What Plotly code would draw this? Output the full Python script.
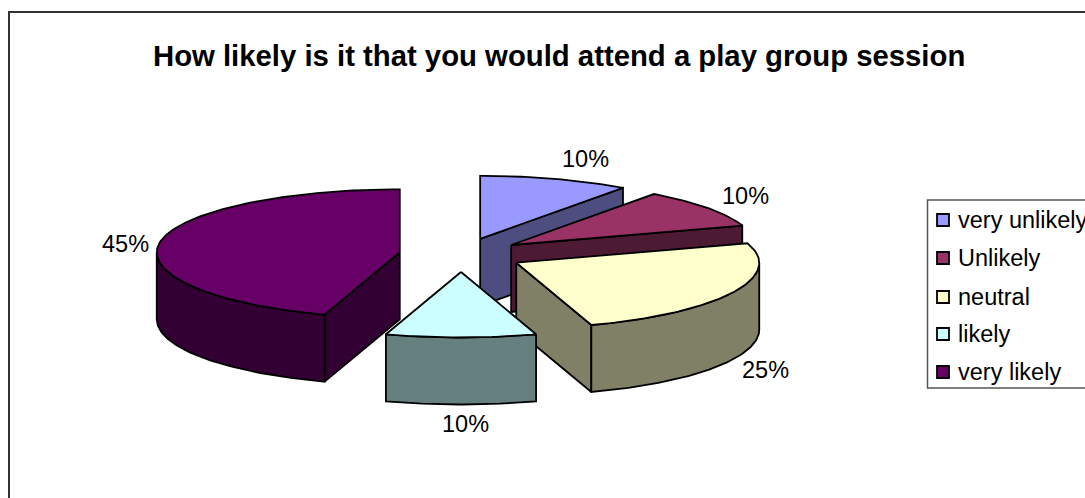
import math
import plotly.graph_objects as go

title = "How likely is it that you would attend a play group session"
categories = ["very unlikely", "Unlikely", "neutral", "likely", "very likely"]
percents = [10, 10, 25, 10, 45]
top_colors = ["#9999FF", "#993366", "#FFFFCC", "#CCFFFF", "#660066"]
wall_colors = ["#4D4D80", "#4D1A33", "#808066", "#668080", "#330033"]

# Layout of the projected pie, in page pixels
W, H = 1085, 498
CX, CY = 461, 255
RX, RY_BACK, RY_FRONT = 243, 63, 65.5
EX, EY = 62, 17      # explosion offset
DEPTH = 67
FONT = "Liberation Sans, Arial, sans-serif"
LABEL_XY = [(585, 159), (745, 196), (765, 370), (465, 424), (125, 244)]
LEGEND_Y = [220, 258, 297, 334, 372]
DRAW_ORDER = [0, 1, 4, 2, 3]


def rim(ax, ay, a, b, n=90):
    steps = max(2, int(n * abs(b - a) / 90) + 1)
    pts = []
    for i in range(steps + 1):
        t = math.radians(a + (b - a) * i / steps)
        c = math.cos(t)
        ry = RY_BACK if c > 0 else RY_FRONT
        pts.append((ax + RX * math.sin(t), ay - ry * c))
    return pts


def poly(fig, pts, fill):
    xs = [p[0] for p in pts] + [pts[0][0]]
    ys = [p[1] for p in pts] + [pts[0][1]]
    fig.add_trace(go.Scatter(x=xs, y=ys, mode="lines", fill="toself", fillcolor=fill,
                             line=dict(color="black", width=1.8), showlegend=False,
                             hoverinfo="skip"))


total = sum(percents)
starts = []
acc = 0
for p in percents:
    starts.append(acc / total * 360)
    acc += p

fig = go.Figure()
for k in DRAW_ORDER:
    a = starts[k]
    b = a + percents[k] / total * 360
    mid = math.radians((a + b) / 2)
    ax = CX + EX * math.sin(mid)
    ay = CY - EY * math.cos(mid)
    apex = (ax, ay)
    down = lambda p: (p[0], p[1] + DEPTH)
    for ang, visible in ((a, math.sin(math.radians(a)) < -1e-6),
                         (b, math.sin(math.radians(b)) > 1e-6)):
        if visible:
            e = rim(ax, ay, ang, ang, 1)[0]
            poly(fig, [apex, e, down(e), down(apex)], wall_colors[k])
    lo, hi = max(a, 90), min(b, 270)
    if lo < hi:
        arc = rim(ax, ay, lo, hi)
        poly(fig, arc + [down(p) for p in reversed(arc)], wall_colors[k])
    poly(fig, [apex] + rim(ax, ay, a, b), top_colors[k])

# Legend swatches
fig.add_trace(go.Scatter(x=[943] * len(categories), y=LEGEND_Y, mode="markers",
                         marker=dict(symbol="square", size=12, color=top_colors,
                                     line=dict(color="black", width=1.8)),
                         showlegend=False, hoverinfo="skip"))

annotations = [dict(x=559, y=55, text=f"<b>{title}</b>", showarrow=False, xanchor="center",
                    yanchor="middle", font=dict(family=FONT, size=29.3, color="black"))]
for (x, y), p in zip(LABEL_XY, percents):
    annotations.append(dict(x=x, y=y, text=f"{p}%", showarrow=False, xanchor="center",
                            yanchor="middle", font=dict(family=FONT, size=23.5, color="black")))
for y, c in zip(LEGEND_Y, categories):
    annotations.append(dict(x=956, y=y, text=c, showarrow=False, xanchor="left",
                            yanchor="middle", font=dict(family=FONT, size=23.5, color="black")))

shapes = [
    dict(type="rect", x0=9, y0=12, x1=W + 20, y1=H + 20, line=dict(color="#333333", width=2)),
    dict(type="rect", x0=927.5, y0=200, x1=W + 20, y1=388, line=dict(color="#555555", width=1.5)),
]
fig.update_layout(
    width=W, height=H, margin=dict(l=0, r=0, t=0, b=0), autosize=False,
    paper_bgcolor="white", plot_bgcolor="white", showlegend=False,
    xaxis=dict(range=[0, W], visible=False, fixedrange=True),
    yaxis=dict(range=[H, 0], visible=False, fixedrange=True),
    annotations=annotations, shapes=shapes,
)
page_css = "document.body.style.margin='0';document.documentElement.style.overflow='hidden';"
fig.write_html("out.html", config={"displayModeBar": False}, post_script=page_css)
